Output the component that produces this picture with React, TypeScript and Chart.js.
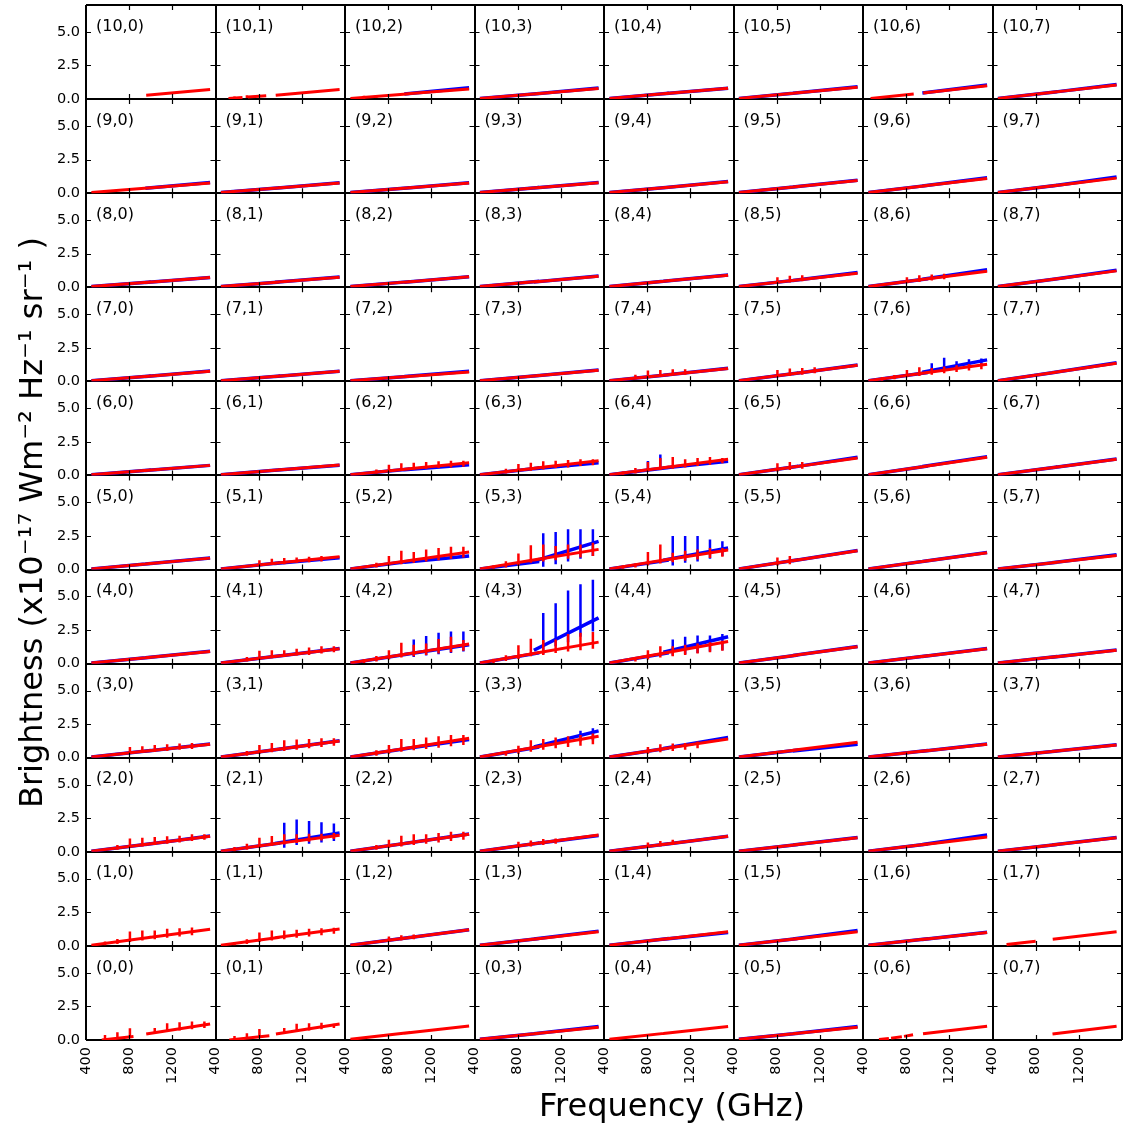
import React, { useEffect, useRef } from "react";
import { Chart, registerables } from "chart.js";

Chart.register(...registerables);

// ---- grid / axes ----
const ROW_IDS = [10, 9, 8, 7, 6, 5, 4, 3, 2, 1, 0];
const COL_IDS = [0, 1, 2, 3, 4, 5, 6, 7];
const X_TICKS = [400, 800, 1200, 1600];
const Y_TICKS = [0, 2.5, 5, 7];
const X_TITLE = "Frequency (GHz)";
const Y_TITLE = "Brightness (x10\u207B\u00B9\u2077 Wm\u207B\u00B2 Hz\u207B\u00B9 sr\u207B\u00B9 )";

// CO ladder line frequencies (GHz) where the spikes sit
const CO_FREQS = [576, 691, 807, 922, 1037, 1152, 1267, 1382, 1497];
// continuum nodes: SLW start, SLW end, SSW start, SSW end (GHz)
const BAND_NODES = [450, 1000, 950, 1550];

type Cont = (number | null)[] | null;

// red continuum values at BAND_NODES, rows (10,*) .. (0,*)
const RED_CONT: Cont[][] = [
  [null, null, [0.05, 0.40, 0.37, 0.75], [0.05, 0.42, 0.38, 0.78], [0.05, 0.43, 0.39, 0.80], [0.05, 0.47, 0.43, 0.88], null, [0.05, 0.55, 0.50, 1.05]],
  [[0.05, 0.40, 0.37, 0.75], [0.05, 0.40, 0.37, 0.75], [0.05, 0.40, 0.37, 0.75], [0.05, 0.42, 0.38, 0.78], [0.05, 0.45, 0.41, 0.85], [0.05, 0.50, 0.46, 0.95], [0.05, 0.58, 0.53, 1.10], [0.05, 0.59, 0.54, 1.12]],
  [[0.05, 0.39, 0.35, 0.72], [0.05, 0.40, 0.37, 0.75], [0.05, 0.42, 0.38, 0.78], [0.05, 0.44, 0.40, 0.82], [0.05, 0.48, 0.44, 0.90], [0.05, 0.55, 0.50, 1.05], [0.05, 0.63, 0.57, 1.20], [0.05, 0.64, 0.58, 1.22]],
  [[0.05, 0.40, 0.37, 0.75], [0.05, 0.40, 0.37, 0.75], [0.05, 0.38, 0.35, 0.70], [0.05, 0.44, 0.40, 0.82], [0.05, 0.50, 0.46, 0.95], [0.05, 0.63, 0.57, 1.20], [0.05, 0.66, 0.61, 1.27], [0.05, 0.70, 0.64, 1.35]],
  [[0.05, 0.40, 0.37, 0.75], [0.05, 0.42, 0.38, 0.78], [0.05, 0.50, 0.46, 0.95], [0.05, 0.58, 0.53, 1.10], [0.05, 0.63, 0.57, 1.20], [0.05, 0.68, 0.62, 1.30], [0.05, 0.70, 0.64, 1.35], [0.05, 0.63, 0.57, 1.20]],
  [[0.05, 0.45, 0.41, 0.85], [0.05, 0.50, 0.46, 0.95], [0.05, 0.68, 0.62, 1.30], [0.05, 0.78, 0.71, 1.50], [0.05, 0.76, 0.69, 1.46], [0.05, 0.73, 0.66, 1.40], [0.05, 0.65, 0.60, 1.25], [0.05, 0.55, 0.50, 1.05]],
  [[0.05, 0.48, 0.44, 0.90], [0.05, 0.58, 0.53, 1.10], [0.05, 0.76, 0.69, 1.46], [0.05, 0.83, 0.76, 1.60], [0.05, 0.85, 0.78, 1.65], [0.05, 0.65, 0.60, 1.25], [0.05, 0.58, 0.53, 1.10], [0.05, 0.53, 0.48, 1.00]],
  [[0.05, 0.53, 0.48, 1.00], [0.05, 0.65, 0.60, 1.25], [0.05, 0.75, 0.69, 1.45], [0.05, 0.83, 0.76, 1.60], [0.05, 0.73, 0.66, 1.40], [0.05, 0.60, 0.55, 1.15], [0.05, 0.53, 0.48, 1.00], [0.05, 0.50, 0.46, 0.95]],
  [[0.05, 0.60, 0.55, 1.15], [0.05, 0.65, 0.59, 1.24], [0.05, 0.68, 0.62, 1.30], [0.05, 0.65, 0.60, 1.25], [0.05, 0.60, 0.55, 1.15], [0.05, 0.55, 0.50, 1.05], [0.05, 0.58, 0.53, 1.10], [0.05, 0.55, 0.50, 1.05]],
  [[0.05, 0.65, 0.59, 1.24], [0.05, 0.65, 0.60, 1.25], [0.05, 0.63, 0.57, 1.20], [0.05, 0.55, 0.50, 1.05], [0.05, 0.55, 0.50, 1.05], [0.05, 0.55, 0.50, 1.05], [0.05, 0.53, 0.48, 1.00], null],
  [null, null, [0.05, 0.55, 0.50, 1.05], [0.05, 0.50, 0.46, 0.95], [0.05, 0.53, 0.48, 1.00], [0.05, 0.50, 0.46, 0.95], null, null],
];

// blue continuum values at BAND_NODES
const BLUE_CONT: Cont[][] = [
  [null, null, [null, null, 0.38, 0.85], [0.05, 0.42, 0.38, 0.83], [0.05, 0.43, 0.39, 0.80], [0.05, 0.47, 0.43, 0.92], [null, null, 0.45, 1.05], [0.05, 0.55, 0.50, 1.08]],
  [[null, null, 0.37, 0.80], [0.05, 0.40, 0.37, 0.78], [0.05, 0.40, 0.37, 0.77], [0.05, 0.42, 0.38, 0.80], [0.05, 0.45, 0.41, 0.87], [0.05, 0.50, 0.46, 0.97], [0.05, 0.58, 0.53, 1.15], [0.05, 0.59, 0.54, 1.20]],
  [[0.05, 0.39, 0.35, 0.73], [0.05, 0.40, 0.37, 0.76], [0.05, 0.42, 0.38, 0.79], [0.05, 0.44, 0.40, 0.84], [0.05, 0.48, 0.44, 0.92], [0.05, 0.55, 0.50, 1.10], [0.05, 0.63, 0.60, 1.30], [0.05, 0.64, 0.58, 1.27]],
  [[0.05, 0.40, 0.37, 0.77], [0.05, 0.40, 0.37, 0.76], [0.05, 0.38, 0.36, 0.75], [0.05, 0.44, 0.40, 0.84], [0.05, 0.50, 0.46, 0.97], [0.05, 0.63, 0.57, 1.22], [0.05, 0.66, 0.68, 1.60], [0.05, 0.70, 0.64, 1.38]],
  [[0.05, 0.40, 0.37, 0.75], [0.05, 0.42, 0.38, 0.76], [0.05, 0.48, 0.42, 0.80], [0.05, 0.55, 0.50, 0.95], [0.05, 0.60, 0.55, 1.05], [0.05, 0.68, 0.62, 1.35], [0.05, 0.70, 0.66, 1.40], [0.05, 0.63, 0.57, 1.22]],
  [[0.05, 0.45, 0.41, 0.86], [0.05, 0.50, 0.45, 0.88], [0.05, 0.62, 0.55, 1.00], [0.05, 0.60, 0.62, 2.10], [0.05, 0.70, 0.70, 1.60], [0.05, 0.73, 0.66, 1.42], [0.05, 0.65, 0.60, 1.27], [0.05, 0.55, 0.50, 1.10]],
  [[0.05, 0.48, 0.44, 0.92], [0.05, 0.58, 0.53, 1.12], [0.05, 0.74, 0.68, 1.40], [0.05, 0.80, 1.00, 3.40], [0.05, 0.80, 0.85, 2.00], [0.05, 0.65, 0.60, 1.27], [0.05, 0.58, 0.53, 1.12], [0.05, 0.53, 0.48, 1.02]],
  [[0.05, 0.53, 0.48, 1.02], [0.05, 0.65, 0.60, 1.27], [0.05, 0.72, 0.66, 1.35], [0.05, 0.80, 0.80, 2.00], [0.05, 0.73, 0.68, 1.50], [0.05, 0.58, 0.50, 1.00], [0.05, 0.53, 0.48, 1.02], [0.05, 0.50, 0.46, 0.97]],
  [[0.05, 0.60, 0.55, 1.17], [0.05, 0.65, 0.62, 1.40], [0.05, 0.68, 0.62, 1.32], [0.05, 0.65, 0.60, 1.22], [0.05, 0.60, 0.55, 1.15], [0.05, 0.55, 0.50, 1.07], [0.05, 0.58, 0.55, 1.25], [0.05, 0.55, 0.50, 1.07]],
  [null, null, [0.05, 0.63, 0.57, 1.20], [0.05, 0.55, 0.52, 1.10], [0.05, 0.55, 0.50, 1.00], [0.05, 0.55, 0.52, 1.15], [0.05, 0.53, 0.48, 1.02], null],
  [null, null, null, [0.05, 0.50, 0.46, 1.00], null, [0.05, 0.50, 0.46, 1.00], null, null],
];

// panels whose red spectrum has gaps: segments [f0, v0, f1, v1]
const RED_SEGMENTS: Record<string, number[][]> = {
  "10,0": [[958, 0.28, 1550, 0.72]],
  "10,1": [[520, 0.05, 650, 0.12], [700, 0.15, 870, 0.25], [958, 0.28, 1550, 0.72]],
  "10,6": [[470, 0.05, 870, 0.38], [958, 0.45, 1550, 1.0]],
  "1,7": [[530, 0.1, 800, 0.35], [958, 0.5, 1550, 1.05]],
  "0,0": [[546, 0.0, 840, 0.26], [958, 0.45, 1550, 1.19]],
  "0,1": [[528, 0.0, 899, 0.32], [960, 0.45, 1550, 1.19]],
  "0,6": [[548, 0.04, 640, 0.12], [660, 0.14, 760, 0.25], [780, 0.27, 864, 0.39], [956, 0.46, 1550, 1.03]],
  "0,7": [[956, 0.44, 1550, 1.03]],
};

// spikes: [CO line index, low, high]
const RED_LINES: Record<string, number[][]> = {
  "10,1": [[0, 0.0, 0.2], [1, 0.08, 0.28]],
  "10,2": [[0, 0.0, 0.25], [1, 0.1, 0.3]],
  "8,5": [[2, 0.3, 0.75], [3, 0.35, 0.85], [4, 0.45, 0.9]],
  "8,6": [[2, 0.3, 0.75], [3, 0.4, 0.9], [4, 0.5, 0.95], [5, 0.6, 1.0]],
  "7,4": [[1, 0.15, 0.5], [2, 0.3, 0.8], [3, 0.35, 0.85], [4, 0.45, 0.9], [5, 0.5, 0.9]],
  "7,5": [[2, 0.3, 0.85], [3, 0.4, 0.95], [4, 0.5, 1.0], [5, 0.6, 1.05]],
  "7,6": [[0, 0.05, 0.3], [1, 0.15, 0.47], [2, 0.3, 0.85], [3, 0.4, 1.05], [4, 0.5, 1.0], [5, 0.6, 1.1], [6, 0.7, 1.2], [7, 0.8, 1.3], [8, 0.9, 1.35]],
  "6,2": [[1, 0.15, 0.45], [2, 0.25, 0.8], [3, 0.35, 0.9], [4, 0.45, 0.95], [5, 0.5, 1.0], [6, 0.55, 1.05], [7, 0.6, 1.1], [8, 0.65, 1.1]],
  "6,3": [[1, 0.15, 0.5], [2, 0.25, 0.85], [3, 0.35, 0.95], [4, 0.45, 1.05], [5, 0.55, 1.1], [6, 0.6, 1.15], [7, 0.7, 1.2], [8, 0.75, 1.2]],
  "6,4": [[0, 0.05, 0.3], [1, 0.15, 0.55], [2, 0.3, 1.0], [3, 0.4, 1.3], [4, 0.5, 1.37], [5, 0.6, 1.2], [6, 0.7, 1.3], [7, 0.8, 1.37], [8, 0.9, 1.3]],
  "6,5": [[2, 0.3, 0.9], [3, 0.4, 1.0], [4, 0.5, 1.0]],
  "5,1": [[2, 0.25, 0.7], [3, 0.35, 0.8], [4, 0.4, 0.85], [5, 0.5, 0.9], [6, 0.55, 0.95], [7, 0.6, 1.0]],
  "5,2": [[1, 0.15, 0.5], [2, 0.3, 1.0], [3, 0.4, 1.4], [4, 0.5, 1.3], [5, 0.6, 1.5], [6, 0.7, 1.6], [7, 0.8, 1.7], [8, 0.9, 1.7]],
  "5,3": [[0, 0.05, 0.3], [1, 0.15, 0.62], [2, 0.3, 1.2], [3, 0.5, 1.8], [4, 0.6, 1.86], [5, 0.7, 1.75], [6, 0.8, 1.87], [7, 0.9, 1.87], [8, 1.0, 2.0]],
  "5,4": [[0, 0.05, 0.3], [1, 0.15, 0.45], [2, 0.3, 1.3], [3, 0.45, 1.86], [4, 0.55, 1.25], [5, 0.65, 1.4], [6, 0.75, 1.5], [7, 0.85, 1.6], [8, 0.95, 1.6]],
  "5,5": [[2, 0.3, 0.9], [3, 0.4, 1.0]],
  "4,1": [[1, 0.15, 0.5], [2, 0.3, 0.95], [3, 0.4, 1.0], [4, 0.5, 1.0], [5, 0.6, 1.1], [6, 0.65, 1.2], [7, 0.75, 1.3], [8, 0.85, 1.3]],
  "4,2": [[0, 0.05, 0.32], [1, 0.15, 0.57], [2, 0.3, 1.0], [3, 0.45, 1.55], [4, 0.55, 1.4], [5, 0.65, 1.5], [6, 0.75, 1.83], [7, 0.85, 2.0], [8, 0.95, 1.76]],
  "4,3": [[0, 0.05, 0.37], [1, 0.2, 0.62], [2, 0.35, 1.36], [3, 0.55, 1.86], [4, 0.65, 1.75], [5, 0.8, 1.8], [6, 0.9, 2.2], [7, 1.0, 2.3], [8, 1.1, 2.35]],
  "4,4": [[1, 0.15, 0.5], [2, 0.3, 1.0], [3, 0.45, 1.3], [4, 0.55, 1.3], [5, 0.65, 1.4], [6, 0.75, 1.5], [7, 0.85, 1.6], [8, 0.95, 1.7]],
  "3,0": [[2, 0.3, 0.8], [3, 0.35, 0.85], [4, 0.45, 0.95], [5, 0.5, 1.0], [6, 0.6, 1.05], [7, 0.65, 1.1]],
  "3,1": [[1, 0.15, 0.5], [2, 0.3, 0.95], [3, 0.4, 1.1], [4, 0.5, 1.3], [5, 0.6, 1.35], [6, 0.7, 1.4], [7, 0.8, 1.45], [8, 0.9, 1.45]],
  "3,2": [[1, 0.15, 0.55], [2, 0.3, 0.95], [3, 0.45, 1.4], [4, 0.55, 1.4], [5, 0.65, 1.5], [6, 0.75, 1.6], [7, 0.85, 1.7], [8, 0.95, 1.7]],
  "3,3": [[1, 0.15, 0.5], [2, 0.3, 0.9], [3, 0.45, 1.3], [4, 0.6, 1.4], [5, 0.7, 1.5], [6, 0.8, 1.6], [7, 0.9, 1.7], [8, 1.0, 1.8]],
  "3,4": [[2, 0.3, 0.8], [3, 0.4, 1.0], [4, 0.5, 1.05], [5, 0.6, 1.1], [6, 0.7, 1.2]],
  "2,0": [[1, 0.15, 0.5], [2, 0.3, 1.0], [3, 0.4, 1.05], [4, 0.5, 1.1], [5, 0.6, 1.15], [6, 0.7, 1.2], [7, 0.8, 1.3], [8, 0.9, 1.3]],
  "2,1": [[0, 0.05, 0.35], [1, 0.15, 0.6], [2, 0.3, 1.04], [3, 0.45, 1.17], [4, 0.55, 1.3], [5, 0.65, 1.3], [6, 0.75, 1.35], [7, 0.85, 1.35], [8, 0.95, 1.4]],
  "2,2": [[1, 0.15, 0.5], [2, 0.3, 0.9], [3, 0.4, 1.2], [4, 0.5, 1.3], [5, 0.6, 1.3], [6, 0.7, 1.4], [7, 0.8, 1.5], [8, 0.9, 1.5]],
  "2,3": [[2, 0.3, 0.75], [3, 0.4, 0.85], [4, 0.5, 0.95], [5, 0.6, 1.0]],
  "2,4": [[2, 0.3, 0.7], [3, 0.4, 0.8], [4, 0.5, 0.9]],
  "1,0": [[0, 0.05, 0.32], [1, 0.15, 0.52], [2, 0.3, 1.07], [3, 0.4, 1.14], [4, 0.5, 1.14], [5, 0.6, 1.27], [6, 0.7, 1.32], [7, 0.8, 1.37]],
  "1,1": [[0, 0.05, 0.3], [1, 0.15, 0.5], [2, 0.3, 1.0], [3, 0.4, 1.14], [4, 0.5, 1.14], [5, 0.6, 1.2], [6, 0.7, 1.27], [7, 0.8, 1.32], [8, 0.9, 1.35]],
  "1,2": [[2, 0.3, 0.7], [3, 0.4, 0.8], [4, 0.5, 0.85]],
  "0,0": [[0, 0.0, 0.37], [1, 0.1, 0.57], [2, 0.2, 0.87], [4, 0.45, 0.9], [5, 0.6, 1.24], [6, 0.7, 1.32], [7, 0.8, 1.37], [8, 0.9, 1.37]],
  "0,1": [[0, 0.0, 0.3], [1, 0.1, 0.5], [2, 0.2, 0.82], [4, 0.45, 0.9], [5, 0.6, 1.2], [6, 0.7, 1.25], [7, 0.8, 1.28], [8, 0.9, 1.2]],
};

const BLUE_LINES: Record<string, number[][]> = {
  "7,6": [[4, 0.7, 1.34], [5, 0.9, 1.76], [6, 1.0, 1.5], [7, 1.1, 1.64], [8, 1.2, 1.7]],
  "6,4": [[2, 0.3, 1.07], [3, 0.4, 1.55]],
  "5,3": [[4, 0.2, 2.7], [5, 0.4, 2.8], [6, 0.6, 3.0], [7, 0.8, 3.0], [8, 1.0, 3.0]],
  "5,4": [[4, 0.3, 2.5], [5, 0.5, 2.5], [6, 0.6, 2.5], [7, 0.8, 2.24], [8, 1.0, 2.1]],
  "4,2": [[4, 0.5, 1.8], [5, 0.6, 2.05], [6, 0.7, 2.3], [7, 0.8, 2.4], [8, 0.9, 2.4]],
  "4,3": [[4, 0.7, 3.76], [5, 1.3, 4.5], [6, 1.6, 5.45], [7, 2.0, 5.9], [8, 2.4, 6.24]],
  "4,4": [[4, 0.6, 1.8], [5, 0.7, 2.0], [6, 0.8, 2.1], [7, 0.9, 2.1], [8, 1.0, 2.2]],
  "3,3": [[7, 1.2, 2.0], [8, 1.3, 2.2]],
  "2,1": [[4, 0.3, 2.16], [5, 0.5, 2.4], [6, 0.6, 2.3], [7, 0.7, 2.2], [8, 0.8, 2.1]],
};

// ---- helpers ----
function contToSegs(v: Cont): number[][] {
  const segs: number[][] = [];
  if (!v) return segs;
  if (v[0] != null && v[1] != null) segs.push([BAND_NODES[0], v[0] as number, BAND_NODES[1], v[1] as number]);
  if (v[2] != null && v[3] != null) segs.push([BAND_NODES[2], v[2] as number, BAND_NODES[3], v[3] as number]);
  return segs;
}
function segData(segs: number[][]) {
  const out: { x: number; y: number | null }[] = [];
  segs.forEach((s, i) => {
    if (i > 0) out.push({ x: s[0], y: null });
    out.push({ x: s[0], y: s[1] }, { x: s[2], y: s[3] });
  });
  return out;
}
function spikeData(lines: number[][] | undefined) {
  const out: { x: number; y: number | null }[] = [];
  (lines || []).forEach(([k, lo, hi]) => {
    const f = CO_FREQS[k];
    out.push({ x: f, y: lo }, { x: f, y: hi }, { x: f, y: null });
  });
  return out;
}

const BLUE = "#0000ff";
const RED = "#ff0000";
const FONT = "'DejaVu Sans', sans-serif";

const panelDecor = {
  id: "panelDecor",
  afterDraw(chart: any) {
    const ctx = chart.ctx;
    ctx.save();
    ROW_IDS.forEach((r, ri) => {
      const ys = chart.scales[`y${ri}`];
      COL_IDS.forEach((c, ci) => {
        const xs = chart.scales[`x${ci}`];
        const left = xs.getPixelForValue(X_TICKS[0]);
        const right = xs.getPixelForValue(X_TICKS[X_TICKS.length - 1]);
        const top = ys.getPixelForValue(Y_TICKS[Y_TICKS.length - 1]);
        const bottom = ys.getPixelForValue(Y_TICKS[0]);
        ctx.strokeStyle = "#000";
        ctx.lineWidth = 1.2;
        ctx.beginPath();
        X_TICKS.slice(1, -1).forEach((v) => {
          const px = Math.round(xs.getPixelForValue(v)) + 0.5;
          ctx.moveTo(px, bottom); ctx.lineTo(px, bottom - 5);
          ctx.moveTo(px, top); ctx.lineTo(px, top + 5);
        });
        Y_TICKS.slice(1, -1).forEach((v) => {
          const py = Math.round(ys.getPixelForValue(v)) + 0.5;
          ctx.moveTo(left, py); ctx.lineTo(left + 5, py);
          ctx.moveTo(right, py); ctx.lineTo(right - 5, py);
        });
        ctx.stroke();
        ctx.fillStyle = "#000";
        ctx.font = `16px ${FONT}`;
        ctx.textBaseline = "middle";
        ctx.textAlign = "left";
        ctx.fillText(`(${r},${c})`, left + 10, top + 21.5);
      });
    });
    ctx.restore();
  },
};

export default function App() {
  const ref = useRef<HTMLCanvasElement | null>(null);

  useEffect(() => {
    if (!ref.current) return;
    Chart.defaults.font.family = FONT;
    Chart.defaults.color = "#000";

    const datasets: any[] = [];
    ROW_IDS.forEach((r, ri) => {
      COL_IDS.forEach((c, ci) => {
        const key = `${r},${c}`;
        const xAxisID = `x${ci}`;
        const yAxisID = `y${ri}`;
        const common = { xAxisID, yAxisID, pointRadius: 0, tension: 0, spanGaps: false, fill: false, borderCapStyle: "butt" };
        datasets.push({ ...common, label: `blue ${key}`, data: segData(contToSegs(BLUE_CONT[ri][ci])), borderColor: BLUE, borderWidth: 3.5, order: 1 });
        datasets.push({ ...common, label: `blue lines ${key}`, data: spikeData(BLUE_LINES[key]), borderColor: BLUE, borderWidth: 2.5, order: 1 });
        datasets.push({ ...common, label: `red ${key}`, data: segData(RED_SEGMENTS[key] || contToSegs(RED_CONT[ri][ci])), borderColor: RED, borderWidth: 3, order: 0 });
        datasets.push({ ...common, label: `red lines ${key}`, data: spikeData(RED_LINES[key]), borderColor: RED, borderWidth: 2.5, order: 0 });
      });
    });

    const edgeColor = (lo: number, hi: number) => (ctx: any) =>
      ctx.tick && (ctx.tick.value === lo || ctx.tick.value === hi) ? "#000" : "rgba(0,0,0,0)";

    const scales: any = {};
    COL_IDS.forEach((c, ci) => {
      scales[`x${ci}`] = {
        type: "linear", axis: "x", position: "bottom", stack: "cols", stackWeight: 1, weight: 0, z: 1,
        min: X_TICKS[0], max: X_TICKS[X_TICKS.length - 1],
        afterBuildTicks: (s: any) => { s.ticks = X_TICKS.map((v) => ({ value: v })); },
        afterFit: (s: any) => { s.height = 50; s.paddingLeft = 0; s.paddingRight = 0; },
        grid: { drawTicks: false, color: edgeColor(X_TICKS[0], X_TICKS[X_TICKS.length - 1]), lineWidth: 2 },
        border: { display: false },
        ticks: {
          autoSkip: false, minRotation: 90, maxRotation: 90, padding: 7, color: "#000",
          font: { family: FONT, size: 14.5 },
          callback: (v: any) => (v === X_TICKS[X_TICKS.length - 1] ? "" : String(v)),
        },
      };
    });
    // define bottom row first so that the top row ends up on top of the stack
    for (let ri = ROW_IDS.length - 1; ri >= 0; ri--) {
      scales[`y${ri}`] = {
        type: "linear", axis: "y", position: "left", stack: "rows", stackWeight: 1, weight: 0, z: 1,
        min: Y_TICKS[0], max: Y_TICKS[Y_TICKS.length - 1],
        afterBuildTicks: (s: any) => { s.ticks = Y_TICKS.map((v) => ({ value: v })); },
        afterFit: (s: any) => { s.width = 40; s.paddingTop = 0; s.paddingBottom = 0; },
        grid: { drawTicks: false, color: edgeColor(Y_TICKS[0], Y_TICKS[Y_TICKS.length - 1]), lineWidth: 2 },
        border: { display: false },
        ticks: {
          autoSkip: false, padding: 6, color: "#000",
          font: { family: FONT, size: 14.5 },
          callback: (v: any) => (v === Y_TICKS[Y_TICKS.length - 1] ? "" : Number(v).toFixed(1)),
        },
      };
    }
    scales.yTitle = {
      type: "linear", axis: "y", position: "left", weight: 5,
      afterFit: (s: any) => { s.width = 46; },
      grid: { display: false }, border: { display: false }, ticks: { display: false },
      title: { display: true, text: Y_TITLE, color: "#000", font: { family: FONT, size: 32 }, padding: { top: 14, bottom: 0 } },
    };
    scales.xSpacer = {
      type: "linear", axis: "x", position: "bottom", stack: "xt", stackWeight: 136, weight: 5,
      afterFit: (s: any) => { s.height = 39; },
      grid: { display: false }, border: { display: false }, ticks: { display: false },
    };
    scales.xTitle = {
      type: "linear", axis: "x", position: "bottom", stack: "xt", stackWeight: 900, weight: 5,
      afterFit: (s: any) => { s.height = 39; },
      grid: { display: false }, border: { display: false }, ticks: { display: false },
      title: { display: true, text: X_TITLE, color: "#000", font: { family: FONT, size: 32 }, padding: { top: 0, bottom: 2 } },
    };

    const chart = new Chart(ref.current, {
      type: "line",
      data: { datasets },
      options: {
        animation: false,
        responsive: false,
        devicePixelRatio: 1,
        events: [],
        layout: { padding: { left: 0, top: 5, right: 2, bottom: 0 } },
        plugins: { legend: { display: false }, tooltip: { enabled: false }, title: { display: false } },
        elements: { point: { radius: 0 }, line: { tension: 0 } },
        scales,
      },
      plugins: [panelDecor],
    } as any);
    return () => chart.destroy();
  }, []);

  return (
    <div style={{ position: "absolute", left: 0, top: 0, width: 1124, height: 1129, background: "#fff" }}>
      <canvas ref={ref} width={1124} height={1129} style={{ display: "block" }} />
    </div>
  );
}
